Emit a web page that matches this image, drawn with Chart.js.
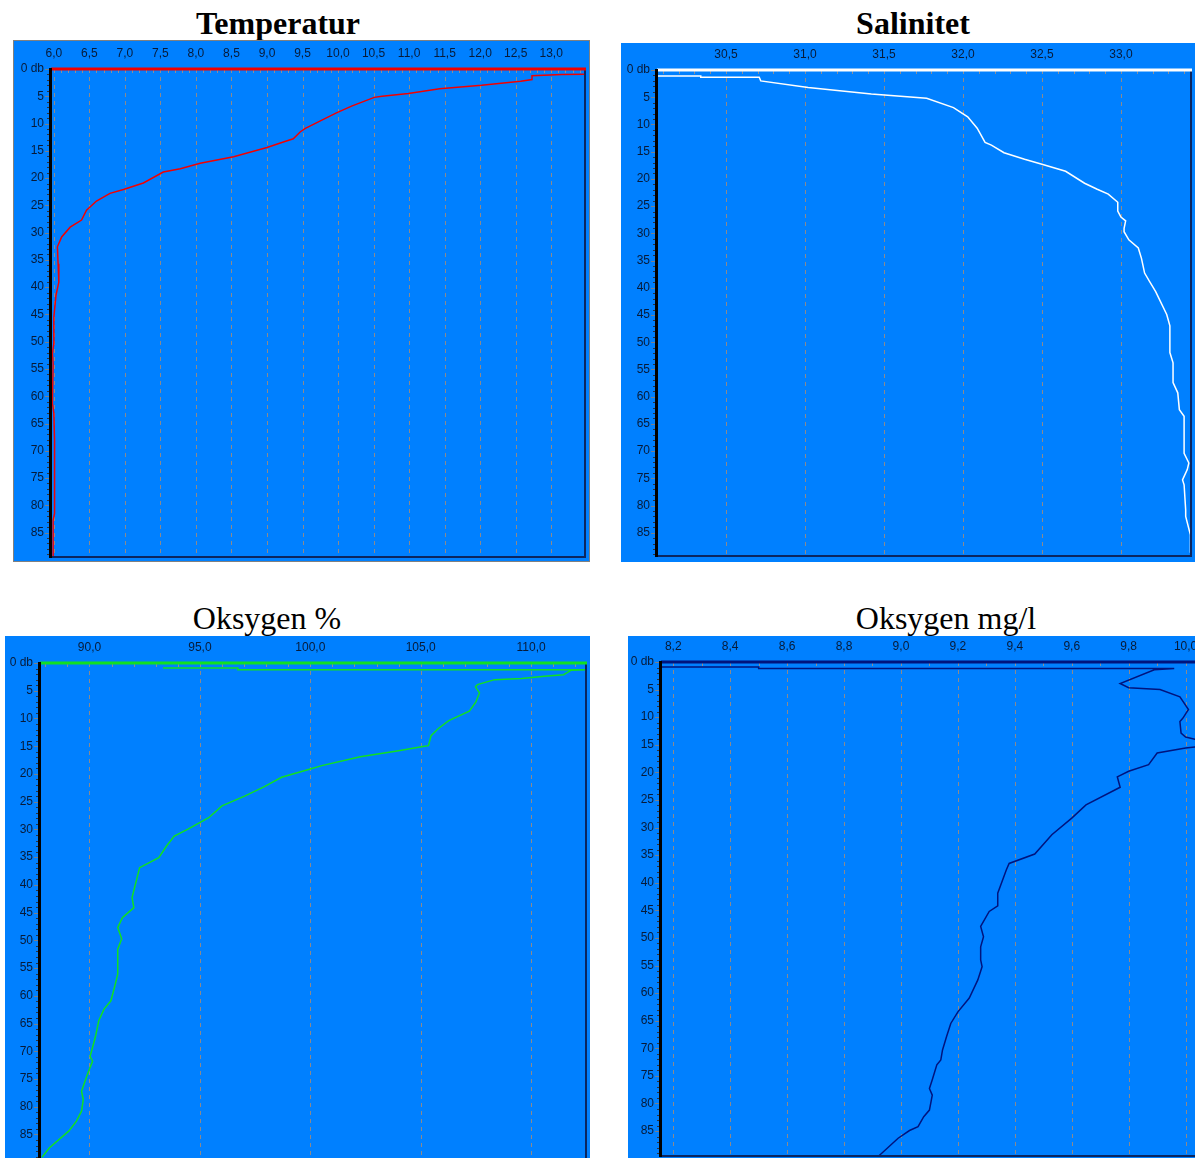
<!DOCTYPE html>
<html><head><meta charset="utf-8">
<script src="https://cdn.jsdelivr.net/npm/chart.js@4.4.1/dist/chart.umd.min.js"></script>
<style>
html,body{margin:0;padding:0;background:#fff;width:1195px;height:1158px;overflow:hidden;position:relative}
.title{position:absolute;font-family:"Liberation Serif","Times New Roman",serif;font-size:32px;line-height:36px;text-align:center;color:#000;white-space:nowrap;width:300px}
.box{position:absolute;background:#0080ff}
canvas{display:block}
</style></head><body>
<div class="title" style="left:128px;top:5px;font-weight:bold">Temperatur</div>
<div class="title" style="left:763px;top:5px;font-weight:bold">Salinitet</div>
<div class="title" style="left:117px;top:600px">Oksygen %</div>
<div class="title" style="left:796px;top:600px">Oksygen mg/l</div>
<div class="box" style="left:13px;top:40px;width:577px;height:522px;box-shadow:inset 0 0 0 1px #808080"><canvas id="c1" width="577" height="522"></canvas></div>
<div class="box" style="left:621px;top:43px;width:574px;height:519px"><canvas id="c2" width="574" height="519"></canvas></div>
<div class="box" style="left:5px;top:636px;width:585px;height:528px"><canvas id="c3" width="585" height="528"></canvas></div>
<div class="box" style="left:628px;top:636px;width:572px;height:525px"><canvas id="c4" width="572" height="525"></canvas></div>
<script>
// ---- data ----
const depthTicks = [0,5,10,15,20,25,30,35,40,45,50,55,60,65,70,75,80,85];
const tempTicks = [6.0,6.5,7.0,7.5,8.0,8.5,9.0,9.5,10.0,10.5,11.0,11.5,12.0,12.5,13.0];
const salTicks = [30.5,31.0,31.5,32.0,32.5,33.0];
const oxyPctTicks = [90,95,100,105,110];
const oxyMgTicks = [8.2,8.4,8.6,8.8,9.0,9.2,9.4,9.6,9.8,10.0];

const tempValues = [13.49,13.15,12.73,12.73,12.57,12.02,11.43,10.99,10.62,10.51,10.19,9.97,9.54,9.47,9.37,9.23,9.00,8.53,8.06,7.78,7.54,7.26,6.98,6.79,6.60,6.46,6.39,6.23,6.11,6.05,6.06,6.07,6.03,6.00,6.00,5.98,5.99,5.98,6.00,6.01,6.01,5.99,5.99];
const tempDepth  = [0.98,1.03,1.25,1.94,2.26,3.0,3.6,4.5,5.0,5.2,6.8,8.1,10.9,11.5,12.8,13.4,14.4,16.1,17.3,18.3,18.9,20.9,22.1,22.8,24.2,25.9,27.7,29.0,30.8,32.6,35.7,39.1,41.5,45.5,50.3,52.2,54.0,61.3,63.1,68.1,81.5,82.7,89.5];

const salValues = [30.06,30.34,30.34,30.71,30.72,31.02,31.42,31.77,31.94,32.03,32.09,32.14,32.18,32.26,32.39,32.50,32.65,32.77,32.85,32.92,32.98,32.98,33.00,33.03,33.02,33.02,33.05,33.11,33.13,33.15,33.18,33.22,33.29,33.31,33.31,33.33,33.33,33.36,33.37,33.40,33.40,33.43,33.42,33.39,33.40,33.41,33.41,33.44,33.44];
const salDepth  = [1.1,1.1,1.34,1.34,2.0,3.2,4.4,5.2,6.9,8.6,10.7,13.3,13.8,15.2,16.4,17.3,18.6,20.8,21.9,22.8,24.3,25.9,27.0,27.7,29.1,29.7,31.2,32.7,34.6,37.3,38.8,40.7,44.9,47.0,51.9,53.8,57.4,59.3,62.4,63.6,70.4,72.2,73.4,75.3,76.2,80.8,82.0,85.4,88.7];

const oxyPctValues = [93.33,96.72,96.72,112.55,111.82,111.47,110.6,109.57,108.35,107.57,107.48,107.66,107.5,107.2,106.27,105.8,105.47,105.35,105.03,104.0,102.26,100.52,100.0,98.7,97.92,97.05,96.0,95.4,94.44,93.84,93.49,93.14,92.27,91.93,92.01,91.49,91.28,91.46,91.28,91.28,91.15,90.97,90.66,90.42,90.28,90.16,90.03,90.14,89.93,89.64,89.72,89.64,89.41,89.06,88.19,87.85];
const oxyPctDepth  = [0.9,0.9,1.2,1.2,1.3,2.1,2.4,2.8,3.0,3.9,4.3,5.4,7.0,8.7,10.4,11.8,13.1,14.9,15.1,15.8,16.9,18.5,19.1,20.6,22.3,23.95,25.75,27.9,30.0,31.2,33.0,35.1,36.9,42.3,44.1,45.9,47.7,49.7,51.6,56.1,58.2,60.9,62.4,64.5,67.2,69.0,70.9,71.8,73.9,77.2,78.7,80.8,82.6,84.4,87.4,89.1];

const oxyMgValues = [8.16,8.50,8.50,9.96,9.89,9.77,9.80,9.91,9.98,10.01,9.99,9.98,9.984,10.00,10.05,10.05,10.00,9.90,9.87,9.80,9.76,9.77,9.65,9.60,9.53,9.47,9.38,9.37,9.34,9.34,9.31,9.28,9.29,9.28,9.28,9.285,9.27,9.24,9.20,9.175,9.16,9.146,9.14,9.126,9.11,9.10,9.11,9.10,9.08,9.06,9.03,8.99,8.92];
const oxyMgDepth  = [0.9,0.9,1.2,1.2,1.4,3.9,4.65,5.0,6.3,8.6,10.2,10.8,12.9,13.6,14.2,15.3,15.6,16.5,18.6,19.8,20.8,22.7,25.9,28.3,31.3,34.8,36.5,37.7,41.9,44.2,45.2,47.9,49.8,51.6,54.0,55.2,57.6,60.9,63.4,65.5,67.9,70.3,72.1,73.0,75.7,77.3,78.5,81.2,82.4,84.2,84.9,86.3,89.6];

// ---- drawing ----
const LABEL_COLOR = '#071a38';
const TICK_FONT = {family:'"Liberation Sans", Arial, sans-serif', size:12};

const framePlugin = {
  id:'frame',
  beforeDatasetsDraw(chart){
    const p = chart.options.plugins.frame;
    const {ctx, chartArea:a} = chart; const x = chart.scales.x;
    ctx.save();
    ctx.strokeStyle = '#8c8a8c'; ctx.lineWidth = 1; ctx.setLineDash([4,4]);
    p.ticks.forEach(v => {
      const px = Math.round(x.getPixelForValue(v)) + 0.5;
      ctx.beginPath(); ctx.moveTo(px, a.top); ctx.lineTo(px, a.bottom); ctx.stroke();
    });
    ctx.restore();
  },
  afterDatasetsDraw(chart){
    const p = chart.options.plugins.frame;
    const {ctx, chartArea:a} = chart; const x = chart.scales.x, y = chart.scales.y;
    ctx.save(); ctx.setLineDash([]);
    // minor ticks along top
    ctx.strokeStyle = '#8a8f99'; ctx.lineWidth = 1;
    const n0 = Math.ceil(p.xmin / p.minor), n1 = Math.floor(p.xmax / p.minor);
    for (let n = n0; n <= n1; n++) {
      const px = Math.round(x.getPixelForValue(n * p.minor)) + 0.5;
      ctx.beginPath(); ctx.moveTo(px, a.top); ctx.lineTo(px, a.top + 4); ctx.stroke();
    }
    // bottom and right border
    ctx.strokeStyle = '#0b2660'; ctx.lineWidth = 2;
    ctx.beginPath(); ctx.moveTo(a.left, a.bottom - 1); ctx.lineTo(a.right, a.bottom - 1); ctx.stroke();
    if (p.rightLine) { ctx.beginPath(); ctx.moveTo(a.right - 1, a.top); ctx.lineTo(a.right - 1, a.bottom); ctx.stroke(); }
    // top line in series colour
    ctx.strokeStyle = p.color; ctx.lineWidth = 3;
    ctx.beginPath(); ctx.moveTo(a.left, a.top); ctx.lineTo(a.right, a.top); ctx.stroke();
    // left ticks
    for (let d = 0; d <= Math.floor(p.ymax); d++) {
      const py = Math.round(y.getPixelForValue(d)) + 0.5;
      const major = d % 5 === 0;
      ctx.strokeStyle = major ? '#7a7f88' : '#2a3340'; ctx.lineWidth = 1;
      ctx.beginPath(); ctx.moveTo(a.left - (major ? 6 : 4), py); ctx.lineTo(a.left, py); ctx.stroke();
    }
    // left axis
    ctx.strokeStyle = '#000'; ctx.lineWidth = 3;
    ctx.beginPath(); ctx.moveTo(a.left - 0.5, a.top - 1); ctx.lineTo(a.left - 0.5, a.bottom); ctx.stroke();
    ctx.restore();
  }
};

function fmt(v){ return (Math.round(v*10)/10).toFixed(1).replace('.', ','); }

function build(id, values, depth, p){
  return new Chart(document.getElementById(id), {
    type:'scatter',
    data:{datasets:[{data: values.map((v,i)=>({x:v, y:depth[i]})), showLine:true,
      borderColor:p.color, borderWidth:1.5, pointRadius:0, tension:0, fill:false}]},
    options:{
      responsive:false, animation:false, events:[],
      layout:{padding:{left:0, top:0, right:p.padR, bottom:p.padB}},
      plugins:{legend:{display:false}, tooltip:{enabled:false}, frame:p},
      scales:{
        x:{type:'linear', position:'top', min:p.xmin, max:p.xmax,
          grid:{display:false, drawTicks:false}, border:{display:false},
          afterBuildTicks:s=>{ s.ticks = p.ticks.map(v=>({value:v})); },
          afterFit:s=>{ s.height = p.top; s.paddingLeft = 0; s.paddingRight = 0; },
          ticks:{autoSkip:false, maxRotation:0, minRotation:0, padding:8, color:LABEL_COLOR, font:TICK_FONT, callback:v=>fmt(v)}},
        y:{type:'linear', position:'left', reverse:true, min:0, max:p.ymax,
          grid:{display:false, drawTicks:false}, border:{display:false},
          afterBuildTicks:s=>{ s.ticks = depthTicks.map(v=>({value:v})); },
          afterFit:s=>{ s.width = p.left; s.paddingTop = 0; s.paddingBottom = 0; },
          ticks:{autoSkip:false, padding:7, color:LABEL_COLOR, font:TICK_FONT, callback:v=> v===0 ? '0 db' : String(v)}}
      }
    },
    plugins:[framePlugin]
  });
}

build('c1', tempValues, tempDepth, {color:'#f20000', ticks:tempTicks, xmin:5.96, xmax:13.49, ymax:89.66, minor:0.1,
  left:38, top:29, padR:4, padB:4, rightLine:true});
build('c2', salValues, salDepth, {color:'#ffffff', ticks:salTicks, xmin:30.063, xmax:33.45, ymax:89.46, minor:0.1,
  left:36, top:27, padR:3, padB:5, rightLine:true});
build('c3', oxyPctValues, oxyPctDepth, {color:'#12e020', ticks:oxyPctTicks, xmin:87.76, xmax:112.53, ymax:89.6, minor:1,
  left:35, top:27, padR:3, padB:4, rightLine:true});
build('c4', oxyMgValues, oxyMgDepth, {color:'#00147e', ticks:oxyMgTicks, xmin:8.157, xmax:10.04, ymax:89.7, minor:0.1,
  left:33, top:26, padR:3, padB:4, rightLine:false});
</script>
</body></html>
